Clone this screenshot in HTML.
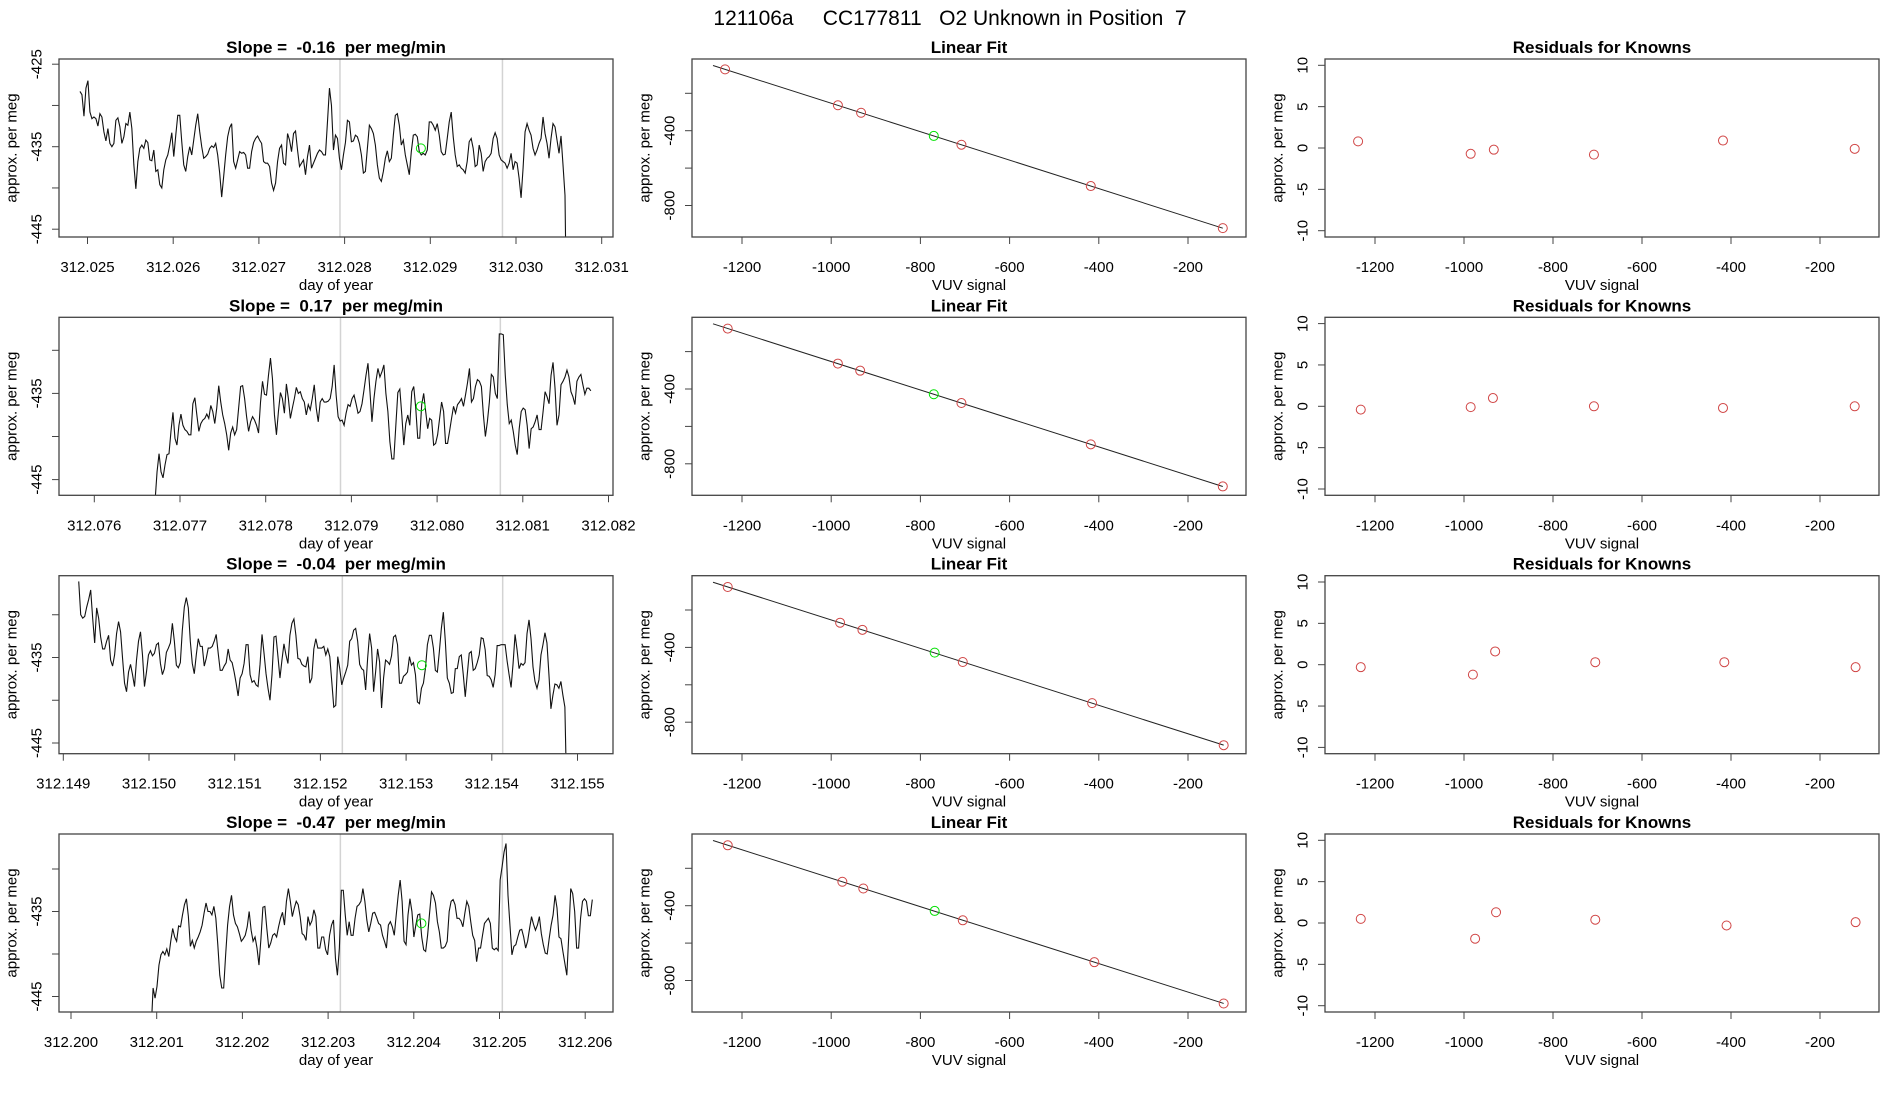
<!DOCTYPE html>
<html><head><meta charset="utf-8"><style>
html,body{margin:0;padding:0;background:#fff;}
svg{display:block;font-family:"Liberation Sans",Arial,sans-serif;}
svg text{white-space:pre;}
</style></head><body>
<svg id="fig" width="1900" height="1100" viewBox="0 0 1900 1100" xmlns="http://www.w3.org/2000/svg" xml:space="preserve">
<text x="950" y="25" font-size="21" text-anchor="middle">121106a     CC177811   O2 Unknown in Position  7</text>
</svg>
<script>
// ---------- data ----------
const slopeLabels = ["-0.16", "0.17", "-0.04", "-0.47"];
const tsStart = [312.024912, 312.076709, 312.14918, 312.200935];
const tsEnd = [312.030595, 312.081794, 312.154876, 312.206083];
const tsTicks1 = [312.025, 312.026, 312.027, 312.028, 312.029, 312.030, 312.031];
const tsTicks2 = [312.076, 312.077, 312.078, 312.079, 312.080, 312.081, 312.082];
const tsTicks3 = [312.149, 312.150, 312.151, 312.152, 312.153, 312.154, 312.155];
const tsTicks4 = [312.200, 312.201, 312.202, 312.203, 312.204, 312.205, 312.206];
const grayLine1 = [312.027946, 312.078873, 312.152256, 312.203143];
const grayLine2 = [312.029842, 312.080738, 312.154127, 312.205033];
const unkTime = [312.02889, 312.07981, 312.153184, 312.204089];
const unkVal = [-435.2, -436.5, -435.9, -436.4];
const ts1 = [-428.3,-428.7,-431.3,-427.9,-427.0,-430.8,-431.6,-431.4,-431.6,-432.5,-431.0,-431.4,-433.2,-434.3,-432.8,-434.6,-435.0,-434.6,-431.8,-431.5,-432.6,-434.6,-433.8,-432.2,-432.4,-430.8,-432.8,-437.2,-440.1,-436.8,-435.2,-434.8,-435.2,-434.2,-434.5,-436.6,-436.7,-435.4,-438.0,-437.8,-439.6,-440.0,-437.8,-436.6,-436.0,-434.8,-433.3,-436.2,-433.6,-431.2,-431.2,-434.4,-437.2,-438.0,-436.2,-435.0,-436.0,-434.2,-432.4,-431.0,-433.2,-435.0,-436.4,-436.2,-435.9,-435.2,-434.9,-435.1,-434.6,-436.0,-438.2,-441.1,-438.6,-436.0,-433.8,-432.7,-432.2,-436.8,-437.6,-436.6,-435.6,-435.8,-435.7,-436.0,-437.6,-437.6,-435.6,-434.5,-434.0,-433.7,-434.2,-434.6,-436.8,-437.0,-437.0,-437.4,-439.4,-440.3,-439.4,-436.8,-435.2,-434.8,-437.0,-437.2,-433.4,-434.2,-435.6,-433.4,-433.1,-435.4,-437.4,-437.0,-436.6,-438.4,-436.2,-434.8,-437.6,-437.0,-436.4,-435.8,-435.4,-435.6,-436.0,-436.0,-432.0,-427.9,-430.0,-435.4,-433.6,-434.0,-436.4,-437.8,-436.0,-434.5,
-431.8,-432.0,-434.4,-434.3,-433.6,-433.8,-434.6,-436.0,-438.2,-438.0,-435.2,-432.4,-432.8,-433.4,-434.8,-437.2,-438.8,-439.2,-438.0,-436.4,-435.5,-436.8,-436.4,-433.6,-431.2,-431.0,-432.4,-434.8,-434.2,-436.0,-437.2,-438.4,-435.6,-433.6,-433.5,-433.8,-435.6,-436.0,-435.8,-436.0,-435.4,-432.0,-432.0,-432.4,-433.0,-432.2,-433.6,-435.6,-436.0,-435.9,-434.0,-432.0,-430.8,-433.8,-436.0,-437.4,-437.2,-437.6,-437.8,-438.2,-436.8,-434.4,-434.0,-435.2,-437.4,-437.2,-434.8,-435.8,-438.0,-436.8,-436.4,-436.2,-435.8,-434.0,-433.3,-434.0,-436.0,-436.6,-436.8,-437.0,-437.6,-437.0,-435.8,-437.8,-436.8,-437.0,-438.8,-441.2,-437.6,-433.2,-432.2,-433.0,-433.6,-435.2,-436.0,-435.4,-434.6,-434.0,-431.4,-433.4,-434.6,-436.4,-434.0,-432.2,-432.6,-434.2,-435.8,-433.7,-437.2,-440.9,-460.0];
const ts2 = [-447.5,-444.1,-442.0,-444.1,-444.8,-443.3,-442.1,-442.0,-439.4,-437.2,-440.2,-441.0,-438.7,-437.4,-438.7,-439.2,-439.4,-439.8,-439.8,-436.2,-435.5,-437.5,-439.4,-438.5,-438.1,-437.9,-437.4,-437.9,-436.4,-437.1,-438.5,-436.7,-434.1,-436.0,-437.5,-438.5,-439.8,-441.6,-439.6,-438.9,-439.8,-439.2,-436.7,-434.2,-434.1,-435.6,-437.7,-439.4,-438.3,-437.7,-438.1,-438.7,-439.6,-436.0,-433.6,-435.1,-435.2,-432.9,-430.9,-433.3,-437.5,-439.8,-437.1,-434.9,-435.6,-437.3,-433.9,-435.6,-437.9,-436.7,-435.6,-434.3,-435.0,-434.8,-435.6,-436.0,-437.5,-436.3,-436.9,-435.6,-434.0,-436.7,-438.3,-436.0,-435.6,-436.0,-436.0,-435.9,-435.6,-434.2,-431.7,-435.2,-437.7,-438.2,-438.1,-438.7,-437.3,-436.3,-436.5,-435.6,-435.2,-436.2,-437.3,-437.1,-436.2,-434.6,-432.9,-431.5,-434.8,-438.3,-435.6,-433.6,-432.1,-433.1,-432.5,-431.7,-435.0,-437.1,-440.6,-442.6,-442.6,-438.7,-434.9,-434.5,-437.5,-441.0,-438.5,-437.5,-438.7,-434.8,-434.2,-436.7,-440.2,-440.2,-436.3,-435.0,-437.1,-439.1,-437.9,-438.1,-441.0,-440.8,-439.8,-437.9,-436.0,-437.1,-440.8,-440.8,-439.4,-437.9,-436.5,-437.3,-436.3,-436.0,-435.6,-436.5,-435.2,-433.8,-432.1,-436.0,-435.6,-434.2,-433.4,-433.6,-434.2,-437.5,-440.0,-438.3,-436.0,-432.8,-433.1,-435.0,-435.6,-428.1,-428.1,-428.2,-432.9,-436.3,-438.5,-438.1,-439.4,-441.0,-442.1,-439.1,-437.1,-436.7,-436.9,-438.7,-441.4,-439.1,-438.9,-438.3,-437.5,-439.2,-439.2,-437.1,-434.8,-435.4,-436.2,-432.9,-431.4,-434.4,-438.7,-437.5,-434.0,-433.6,-433.1,-432.3,-433.1,-434.8,-435.4,-436.3,-433.6,-433.1,-432.8,-434.0,-435.1,-434.4,-434.4,-434.7];
const ts3 = [-426.1,-430.0,-430.4,-430.2,-429.1,-428.2,-427.1,-430.4,-433.3,-429.2,-430.4,-432.6,-434.0,-434.0,-433.1,-432.4,-435.3,-436.0,-434.7,-432.2,-430.8,-432.0,-435.1,-438.0,-439.0,-436.7,-435.8,-437.0,-438.4,-435.3,-433.1,-432.0,-434.7,-438.4,-436.7,-434.7,-434.2,-434.8,-434.5,-433.5,-433.3,-435.7,-437.0,-436.3,-434.4,-433.9,-433.3,-431.0,-433.1,-435.9,-436.2,-435.6,-431.8,-429.1,-428.0,-429.2,-433.1,-435.7,-436.9,-434.7,-432.8,-433.7,-433.7,-436.0,-435.1,-433.9,-433.9,-433.7,-433.1,-432.3,-434.5,-436.5,-436.5,-436.0,-435.6,-434.0,-435.3,-435.6,-436.7,-438.0,-439.5,-437.4,-436.9,-435.7,-433.5,-433.5,-437.0,-437.9,-437.7,-438.2,-438.4,-435.8,-432.3,-434.5,-436.9,-438.6,-440.0,-437.0,-432.6,-432.5,-434.9,-437.4,-435.3,-433.4,-434.7,-435.7,-432.4,-431.0,-430.5,-432.4,-435.1,-435.2,-435.8,-436.0,-436.1,-434.9,-438.0,-437.4,-434.0,-432.8,-433.9,-433.9,-433.9,-433.7,-434.7,-434.0,-434.9,-437.8,-440.8,-440.6,-434.9,-436.3,-438.2,-437.4,-436.7,-435.9,-433.1,-432.8,-431.8,-431.6,-433.1,-435.8,-436.3,-436.5,-438.8,-435.1,-432.2,-433.9,-439.0,-436.7,-434.0,-435.5,-440.9,-437.4,-435.3,-435.5,-435.8,-434.8,-432.6,-432.4,-433.5,-438.0,-438.0,-437.2,-437.0,-436.7,-434.9,-435.9,-435.6,-437.0,-440.2,-440.4,-438.6,-438.0,-436.3,-433.5,-432.4,-432.4,-433.9,-436.5,-436.7,-434.3,-431.6,-429.7,-433.1,-437.4,-438.0,-439.2,-439.1,-436.3,-436.3,-434.9,-434.7,-437.0,-439.6,-437.0,-434.5,-434.3,-436.5,-436.3,-435.6,-434.7,-432.7,-432.8,-434.1,-437.1,-437.2,-437.6,-438.5,-437.0,-433.6,-433.6,-433.5,-433.5,-433.5,-435.4,-437.0,-438.5,-435.7,-432.3,-434.1,-436.3,-435.7,-435.9,-435.6,-432.2,-430.6,-432.8,-436.1,-437.8,-438.6,-437.6,-434.7,-433.5,-432.1,-433.3,-437.0,-441.0,-439.4,-438.1,-438.2,-438.6,-437.8,-439.4,-440.8,-452.0];
const ts4 = [-449.0,-444.0,-445.2,-443.8,-441.3,-440.1,-439.7,-440.1,-439.4,-440.3,-438.5,-437.0,-438.0,-438.5,-436.7,-436.8,-435.4,-434.2,-433.5,-435.6,-439.1,-438.4,-439.3,-438.5,-438.0,-437.4,-436.6,-435.2,-434.0,-435.0,-435.0,-435.4,-434.4,-435.8,-438.9,-442.5,-444.0,-444.0,-440.1,-436.6,-434.4,-433.1,-435.4,-436.4,-436.8,-437.6,-438.5,-438.2,-437.8,-436.8,-435.0,-437.2,-438.5,-438.0,-439.3,-441.3,-438.2,-434.5,-434.4,-437.0,-439.3,-438.7,-437.8,-437.6,-438.0,-436.8,-435.8,-435.1,-436.6,-433.8,-432.3,-433.8,-435.6,-434.6,-433.8,-434.2,-435.6,-437.6,-437.8,-438.4,-435.6,-436.6,-436.1,-434.8,-435.6,-439.3,-439.3,-438.0,-438.0,-439.5,-440.1,-437.8,-436.6,-436.0,-440.5,-442.5,-439.3,-432.5,-432.5,-435.4,-437.8,-436.2,-437.8,-437.8,-435.8,-434.4,-434.2,-433.8,-432.3,-433.8,-436.0,-437.4,-436.4,-435.2,-435.1,-435.7,-436.4,-436.6,-437.8,-438.5,-439.3,-436.6,-436.2,-436.8,-437.8,-435.4,-433.1,-431.3,-433.8,-438.5,-438.9,-435.4,-433.5,-435.0,-438.0,-436.6,-435.4,-435.3,-438.0,-439.5,-439.7,-437.8,-435.2,-432.7,-433.1,-434.0,-436.2,-437.4,-439.3,-439.3,-439.1,-438.5,-435.0,-433.8,-433.6,-434.2,-435.8,-435.8,-436.1,-436.8,-435.2,-433.8,-434.4,-436.2,-437.8,-438.4,-440.9,-439.3,-439.3,-437.8,-436.4,-436.1,-435.8,-436.4,-439.3,-439.5,-439.3,-439.6,-431.3,-429.7,-428.0,-427.0,-433.1,-436.6,-440.1,-439.1,-438.9,-438.0,-437.2,-437.1,-438.0,-439.3,-438.5,-437.0,-435.6,-436.5,-437.2,-436.6,-435.6,-437.6,-438.9,-439.9,-440.0,-438.2,-436.6,-435.4,-433.1,-434.6,-438.0,-438.2,-439.7,-441.1,-442.5,-437.8,-432.3,-432.9,-435.0,-439.3,-439.3,-435.8,-433.8,-433.5,-433.8,-435.5,-435.5,-433.6];
const tsSeries = [ts1, ts2, ts3, ts4];
const tsTickSets = [tsTicks1, tsTicks2, tsTicks3, tsTicks4];

const knownX1 = [-1238,-985,-933,-708,-418,-122];
const knownX2 = [-1232,-985,-935,-708,-418,-122];
const knownX3 = [-1232,-980,-930,-705,-415,-120];
const knownX4 = [-1232,-975,-928,-705,-410,-120];
const knownY1 = [-72,-264,-304,-475,-696,-921];
const knownY2 = [-77,-264,-302,-475,-696,-921];
const knownY3 = [-77,-268,-306,-478,-698,-923];
const knownY4 = [-77,-272,-308,-478,-702,-923];
const unkX = [-770, -770, -768, -768];
const unkY = [-428, -428, -428, -428];
const fitIntercept = [-1014.1, -1014.1, -1014.1, -1014.1];
const fitSlope = [-0.761, -0.761, -0.761, -0.761];
const fitXStart = [-1265, -1265, -1265, -1265];
const resid1 = [0.8,-0.7,-0.2,-0.8,0.9,-0.1];
const resid2 = [-0.4,-0.1,1.0,0.0,-0.2,0.0];
const resid3 = [-0.3,-1.2,1.6,0.3,0.3,-0.3];
const resid4 = [0.5,-1.9,1.3,0.4,-0.3,0.1];
const knownXs = [knownX1, knownX2, knownX3, knownX4];
const knownYs = [knownY1, knownY2, knownY3, knownY4];
const resids = [resid1, resid2, resid3, resid4];
const vuvTicks = [-1200,-1000,-800,-600,-400,-200];
const fitYTicks = [-200,-400,-600,-800];
const residYTicks = [-10,-5,0,5,10];

// ---------- layout ----------
const NS = "http://www.w3.org/2000/svg";
const svg = document.getElementById('fig');
const rowTop = [59, 317.3, 575.7, 834];
const boxH = 178, boxW = 554;
const colLeft = [59, 692, 1325];
const tsRef = [[312.025, 87.5], [312.077, 180], [312.149, 63.3], [312.200, 71]];
const tsPxPer = 85700;
const tsYRef = [[146.7, 8.25], [393.4, 8.62], [657.5, 8.55], [911.5, 8.5]];
const FS = 15;

function el(tag, attrs, parent) {
  const e = document.createElementNS(NS, tag);
  for (const k in attrs) e.setAttribute(k, attrs[k]);
  (parent || svg).appendChild(e);
  return e;
}
function txt(str, x, y, size, opts, parent) {
  const t = el('text', Object.assign({x: x, y: y, 'font-size': size, 'text-anchor': 'middle'}, opts || {}), parent);
  t.textContent = str;
  return t;
}
function box(x, y, name, parent) {
  const r = el('rect', {x: x, y: y, width: boxW, height: boxH, fill: 'none', stroke: '#444', 'stroke-width': 1.3}, parent);
  
  
}
function yLabel(str, cx, cy, size, parent) {
  return txt(str, cx, cy, size, {transform: 'rotate(-90 ' + cx + ' ' + cy + ')', 'dominant-baseline': 'central'}, parent);
}
function clip(id, x, y) {
  const cp = el('clipPath', {id: id});
  el('rect', {x: x, y: y, width: boxW, height: boxH}, cp);
}

for (let r = 0; r < 4; r++) {
  const top = rowTop[r], bot = top + boxH;
  const g = el('g', {});
  
  
  const L = colLeft[0];
  const xs = t => tsRef[r][1] + (t - tsRef[r][0]) * tsPxPer;
  const ys = v => tsYRef[r][0] - (v - (-435)) * tsYRef[r][1];
  clip('clipts' + r, L, top);
  const tt = txt('Slope =  ' + slopeLabels[r] + '  per meg/min', L + boxW / 2, top - 6, 17, {'font-weight': 'bold'}, g);
  
  
  const cg = el('g', {'clip-path': 'url(#clipts' + r + ')'}, g);
  [grayLine1[r], grayLine2[r]].forEach(t => {
    const ln = el('line', {x1: xs(t), x2: xs(t), y1: top, y2: bot, stroke: '#d3d3d3', 'stroke-width': 1.5}, cg);
    
    
  });
  const vals = tsSeries[r];
  const n = vals.length;
  let d = '';
  vals.forEach((v, i) => {
    const t = tsStart[r] + i * (tsEnd[r] - tsStart[r]) / (n - 1);
    d += (i ? 'L' : 'M') + xs(t).toFixed(2) + ' ' + ys(v).toFixed(2);
  });
  const pth = el('path', {d: d, fill: 'none', stroke: '#111', 'stroke-width': 1.1}, cg);
  
  
  const gc = el('circle', {cx: xs(unkTime[r]), cy: ys(unkVal[r]), r: 4.5, fill: 'none', stroke: '#00e000', 'stroke-width': 1}, cg);
  
  
  box(L, top, 'plot-box', g);
  tsTickSets[r].forEach(t => {
    const x = xs(t);
    el('line', {x1: x, x2: x, y1: bot, y2: bot + 7, stroke: '#444', 'stroke-width': 1}, g);
    const lb = txt(t.toFixed(3), x, bot + 35, FS, {}, g);
    
    
  });
  for (let v = -450; v <= -420; v += 5) {
    const y = ys(v);
    if (y < top || y > bot) continue;
    el('line', {x1: L - 7, x2: L, y1: y, y2: y, stroke: '#444', 'stroke-width': 1}, g);
    if (Math.abs(v % 10) === 5) {
      const lb = yLabel(String(v), L - 22, y, FS, g);
      
      
    }
  }
  const xl = txt('day of year', L + boxW / 2, bot + 53, FS, {}, g);
  
  
  const yl = yLabel('approx. per meg', L - 47, top + boxH / 2, FS, g);
  
  

  const g2 = el('g', {});
  
  
  const L2 = colLeft[1];
  const vx = v => L2 + 50 + (v + 1200) * 0.446;
  const fy = v => top + 71.7 - (v + 400) * 0.187;
  clip('clipfit' + r, L2, top);
  const ft = txt('Linear Fit', L2 + boxW / 2, top - 6, 17, {'font-weight': 'bold'}, g2);
  
  
  const cg2 = el('g', {'clip-path': 'url(#clipfit' + r + ')'}, g2);
  const xA = fitXStart[r], xB = Math.max.apply(null, knownXs[r]);
  const fl = el('line', {x1: vx(xA), y1: fy(fitIntercept[r] + fitSlope[r] * xA), x2: vx(xB), y2: fy(fitIntercept[r] + fitSlope[r] * xB), stroke: '#222', 'stroke-width': 1}, cg2);
  
  
  knownXs[r].forEach((x, i) => {
    const c = el('circle', {cx: vx(x), cy: fy(knownYs[r][i]), r: 4.5, fill: 'none', stroke: '#d04545', 'stroke-width': 1}, cg2);
    
    
  });
  const uc = el('circle', {cx: vx(unkX[r]), cy: fy(unkY[r]), r: 4.5, fill: 'none', stroke: '#00e000', 'stroke-width': 1}, cg2);
  
  
  box(L2, top, 'plot-box', g2);
  vuvTicks.forEach(v => {
    const x = vx(v);
    el('line', {x1: x, x2: x, y1: bot, y2: bot + 7, stroke: '#444', 'stroke-width': 1}, g2);
    const lb = txt(String(v), x, bot + 35, FS, {}, g2);
    
    
  });
  fitYTicks.forEach(v => {
    const y = fy(v);
    el('line', {x1: L2 - 7, x2: L2, y1: y, y2: y, stroke: '#444', 'stroke-width': 1}, g2);
    if (v === -400 || v === -800) {
      const lb = yLabel(String(v), L2 - 22, y, FS, g2);
      
      
    }
  });
  const xl2 = txt('VUV signal', L2 + boxW / 2, bot + 53, FS, {}, g2);
  
  
  const yl2 = yLabel('approx. per meg', L2 - 47, top + boxH / 2, FS, g2);
  
  

  const g3 = el('g', {});
  
  
  const L3 = colLeft[2];
  const rx = v => L3 + 50 + (v + 1200) * 0.445;
  const ry = v => top + 89 - v * 8.27;
  const rt = txt('Residuals for Knowns', L3 + boxW / 2, top - 6, 17, {'font-weight': 'bold'}, g3);
  
  
  knownXs[r].forEach((x, i) => {
    const c = el('circle', {cx: rx(x), cy: ry(resids[r][i]), r: 4.5, fill: 'none', stroke: '#d04545', 'stroke-width': 1}, g3);
    
    
  });
  box(L3, top, 'plot-box', g3);
  vuvTicks.forEach(v => {
    const x = rx(v);
    el('line', {x1: x, x2: x, y1: bot, y2: bot + 7, stroke: '#444', 'stroke-width': 1}, g3);
    const lb = txt(String(v), x, bot + 35, FS, {}, g3);
    
    
  });
  residYTicks.forEach(v => {
    const y = ry(v);
    el('line', {x1: L3 - 7, x2: L3, y1: y, y2: y, stroke: '#444', 'stroke-width': 1}, g3);
    const lb = yLabel(String(v), L3 - 22, y, FS, g3);
    
    
  });
  const xl3 = txt('VUV signal', L3 + boxW / 2, bot + 53, FS, {}, g3);
  
  
  const yl3 = yLabel('approx. per meg', L3 - 47, top + boxH / 2, FS, g3);
  
  
}
</script>
</body></html>
